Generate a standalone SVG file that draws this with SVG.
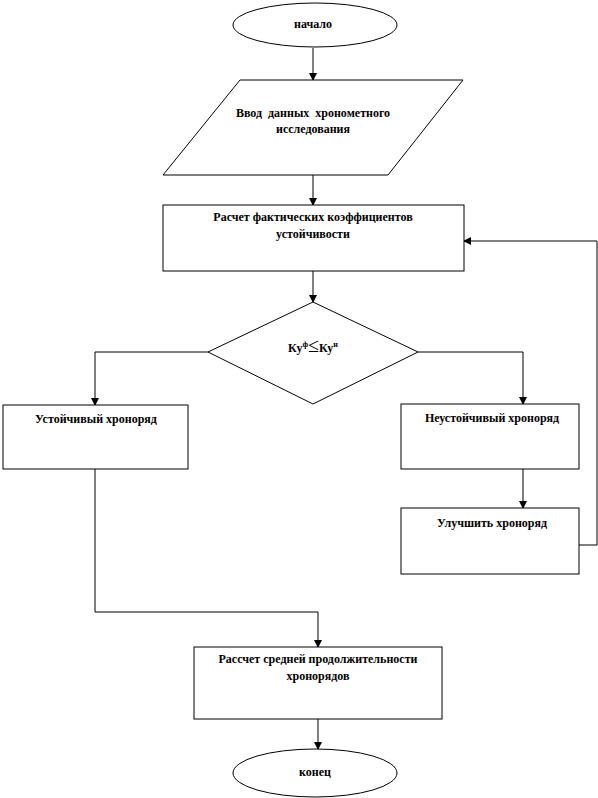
<svg xmlns="http://www.w3.org/2000/svg" width="598" height="798" viewBox="0 0 598 798">
<defs>
<marker id="arr" markerWidth="8" markerHeight="8" refX="7" refY="4" orient="auto" markerUnits="userSpaceOnUse">
<path d="M0,0 L8,4 L0,8 Z" fill="#000"/>
</marker>
<style>
.s{fill:#fff;stroke:#000;stroke-width:1}
.c{fill:none;stroke:#000;stroke-width:1}
.t{font-family:"Liberation Serif","Times New Roman",serif;font-size:12px;font-weight:bold;fill:#000;text-anchor:middle}
</style>
</defs>
<rect width="598" height="798" fill="#fff"/>
<g id="connectors">
<line class="c" x1="313" y1="48" x2="313" y2="80" marker-end="url(#arr)"/>
<line class="c" x1="313" y1="175" x2="313" y2="205" marker-end="url(#arr)"/>
<line class="c" x1="313" y1="271" x2="313" y2="302" marker-end="url(#arr)"/>
<polyline class="c" points="208,352 95,352 95,405" marker-end="url(#arr)"/>
<polyline class="c" points="418,352 523,352 523,404" marker-end="url(#arr)"/>
<line class="c" x1="523" y1="469" x2="523" y2="508" marker-end="url(#arr)"/>
<polyline class="c" points="579,545 597,545 597,241 464,241" marker-end="url(#arr)"/>
<polyline class="c" points="95,469 95,612 318,612 318,647" marker-end="url(#arr)"/>
<line class="c" x1="318" y1="719" x2="318" y2="749" marker-end="url(#arr)"/>
</g>
<g id="start">
<ellipse class="s" cx="315" cy="25" rx="82" ry="22"/>
<text class="t" x="313" y="28">начало</text>
</g>
<g id="input">
<polygon class="s" points="240,80 463,80 388,175 163,175"/>
<text class="t" x="313" y="117" xml:space="preserve">Ввод  данных  хронометного</text>
<text class="t" x="313" y="133">исследования</text>
</g>
<g id="calc">
<rect class="s" x="163" y="205" width="301" height="66"/>
<text class="t" x="313" y="221">Расчет фактических коэффициентов</text>
<text class="t" x="313" y="238">устойчивости</text>
</g>
<g id="decision">
<polygon class="s" points="313,302 418,352 313,404 208,352"/>
<text class="t" x="313" y="352" font-size="13"><tspan>Ку</tspan><tspan font-size="8" dy="-5">ф</tspan><tspan font-size="20" font-weight="normal" dy="5">≤</tspan><tspan>Ку</tspan><tspan font-size="8" dy="-5">н</tspan></text>
</g>
<g id="stable">
<rect class="s" x="3" y="405" width="185" height="64"/>
<text class="t" x="96" y="423">Устойчивый хроноряд</text>
</g>
<g id="unstable">
<rect class="s" x="401" y="404" width="178" height="65"/>
<text class="t" x="492" y="422">Неустойчивый хроноряд</text>
</g>
<g id="improve">
<rect class="s" x="401" y="508" width="178" height="66"/>
<text class="t" x="492" y="527">Улучшить хроноряд</text>
</g>
<g id="avg">
<rect class="s" x="194" y="647" width="248" height="72"/>
<text class="t" x="318" y="663">Рассчет средней продолжительности</text>
<text class="t" x="318" y="680">хронорядов</text>
</g>
<g id="end">
<ellipse class="s" cx="315" cy="773" rx="82" ry="24"/>
<text class="t" x="315" y="776">конец</text>
</g>
</svg>
